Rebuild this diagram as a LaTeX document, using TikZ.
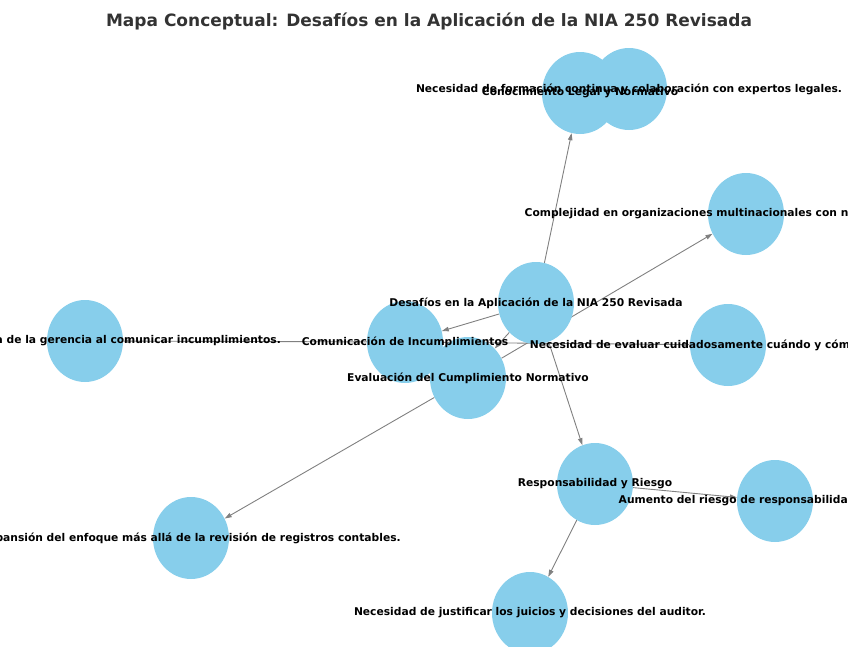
\documentclass[tikz,border=0pt]{standalone}
\usepackage{fontspec}
\setmainfont{DejaVu Sans}
\usetikzlibrary{arrows.meta,shapes.geometric,backgrounds}
\definecolor{nodeblue}{HTML}{87CEEB}
\definecolor{edgegray}{HTML}{808080}
\definecolor{titlegray}{HTML}{333333}
\begin{document}
\begin{tikzpicture}[x=1pt,y=-1pt,
  concept/.style={ellipse,fill=nodeblue,minimum width=76pt,minimum height=82pt,inner sep=0pt},
  lbl/.style={font=\fontsize{10.7}{12}\selectfont\bfseries,inner sep=0pt,text=black},
  edge/.style={draw=edgegray,line width=0.9pt,-{Triangle[length=7pt,width=4.5pt]}}]
\useasboundingbox (0,0) rectangle (848,646);
\clip (0,0) rectangle (848,646);
% title
\node[font=\fontsize{17}{20}\selectfont\bfseries,text=titlegray,inner sep=0pt] (title) at (429,21) {Mapa Conceptual: Desafíos en la Aplicación de la NIA 250 Revisada};
% circles
\node[concept] (root) at (536,303) {};
\node[concept] (con) at (580,93) {};
\node[concept] (form) at (629,89) {};
\node[concept] (comp) at (746,214) {};
\node[concept] (com) at (405,342) {};
\node[concept] (res) at (85,341) {};
\node[concept] (eva) at (468,378) {};
\node[concept] (nev) at (728,345) {};
\node[concept] (exp) at (191,538) {};
\node[concept] (rr) at (595,484) {};
\node[concept] (aum) at (775,501) {};
\node[concept] (jus) at (530,613) {};
% edges
\begin{pgfonlayer}{background}
\draw[edge] (root) -- (con);
\draw[edge] (con) -- (form);
\draw[edge] (root) -- (com);
\draw[edge] (root) -- (eva);
\draw[edge] (root) -- (rr);
\draw[edge] (com) -- (res);
\draw[edge] (com) -- (nev);
\draw[edge] (eva) -- (comp);
\draw[edge] (eva) -- (exp);
\draw[edge] (rr) -- (aum);
\draw[edge] (rr) -- (jus);
\end{pgfonlayer}
% labels
\node[lbl] (root-l) at (root) {Desafíos en la Aplicación de la NIA 250 Revisada};
\node[lbl] (form-l) at (form) {Necesidad de formación continua y colaboración con expertos legales.};
\node[lbl] (con-l) at (con) {Conocimiento Legal y Normativo};
\node[lbl] (comp-l) at (comp) {Complejidad en organizaciones multinacionales con normativas diversas.};
\node[lbl] (com-l) at (com) {Comunicación de Incumplimientos};
\node[lbl] (res-l) at (res) {Posible resistencia de la gerencia al comunicar incumplimientos.};
\node[lbl] (eva-l) at (eva) {Evaluación del Cumplimiento Normativo};
\node[lbl] (nev-l) at (nev) {Necesidad de evaluar cuidadosamente cuándo y cómo comunicar.};
\node[lbl] (exp-l) at (exp) {Expansión del enfoque más allá de la revisión de registros contables.};
\node[lbl] (rr-l) at (rr) {Responsabilidad y Riesgo};
\node[lbl] (aum-l) at (aum) {Aumento del riesgo de responsabilidad profesional.};
\node[lbl] (jus-l) at (jus) {Necesidad de justificar los juicios y decisiones del auditor.};
\end{tikzpicture}
\end{document}
